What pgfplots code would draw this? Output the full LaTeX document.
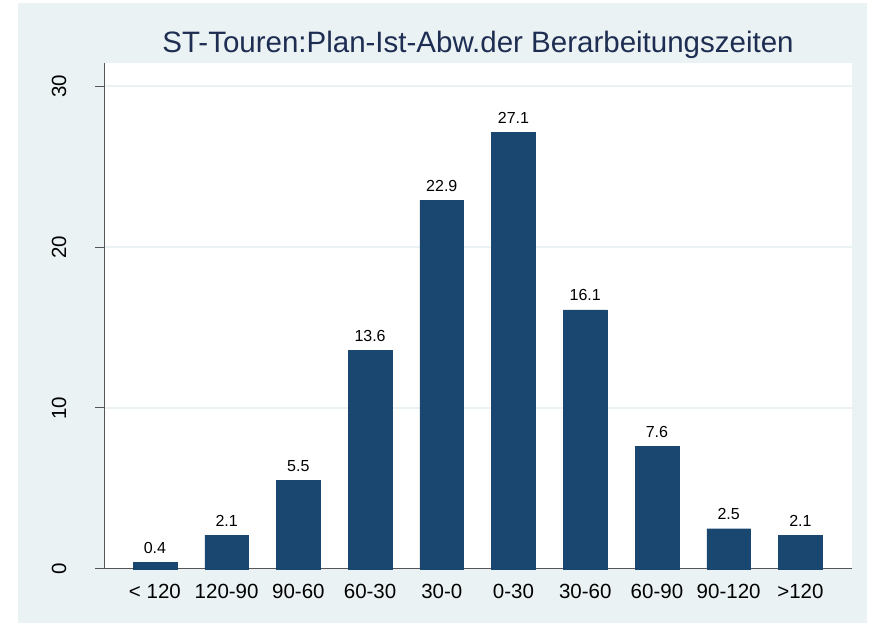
\documentclass[border=0pt]{standalone}
\usepackage{fontspec}
\setmainfont{Liberation Sans}
\usepackage{pgfplots}
\pgfplotsset{compat=1.18}
\definecolor{bg}{HTML}{EAF2F3}
\definecolor{barc}{HTML}{1A476F}
\definecolor{titlec}{HTML}{1E2D52}
\definecolor{axisc}{HTML}{555555}

\begin{document}
\begin{tikzpicture}[x=1bp,y=1bp]
\useasboundingbox (0,0) rectangle (869,624);
\fill[white] (0,0) rectangle (869,624);
\fill[bg] (18,1) rectangle (867,621);
\fill[white] (104,55) rectangle (852,561);
\begin{axis}[at={(104bp,55bp)}, anchor=south west, scale only axis,
  width=748bp, height=506bp,
  xmin=-0.71, xmax=9.72, ymin=0, ymax=31.43,
  axis lines*=left, axis line style={axisc, line width=1bp},
  ymajorgrids, grid style={bg, line width=1.5bp},
  ytick={0,10,20,30}, xtick={0,...,9},
  xticklabels={< 120,120-90,90-60,60-30,30-0,0-30,30-60,60-90,90-120,>120},
  x tick style={draw=none}, y tick style={axisc, line width=1bp},
  tick align=outside, major tick length=9bp,
  /pgf/number format/assume math mode=true,
  tick label style={font=\fontsize{20.5bp}{24bp}\selectfont, black},
  xticklabel style={anchor=base, yshift=-21bp, inner sep=0pt},
  yticklabel style={rotate=90, anchor=base, inner sep=0pt, yshift=29bp},
  ybar, bar width=0.61,
  nodes near coords,
  nodes near coords style={font=\fontsize{16bp}{19bp}\selectfont, black, anchor=base, inner sep=0pt, yshift=9bp,
    /pgf/number format/.cd, fixed, fixed zerofill, precision=1, assume math mode=true},
  clip=false]
\addplot[fill=barc, draw=barc] coordinates {(0,0.4) (1,2.1) (2,5.5) (3,13.6) (4,22.9) (5,27.1) (6,16.1) (7,7.6) (8,2.5) (9,2.1)};
\end{axis}
\node[titlec, anchor=base, font=\fontsize{29.5bp}{35bp}\selectfont] at (478,571) {ST-Touren:Plan-Ist-Abw.der Berarbeitungszeiten};
\end{tikzpicture}
\end{document}
